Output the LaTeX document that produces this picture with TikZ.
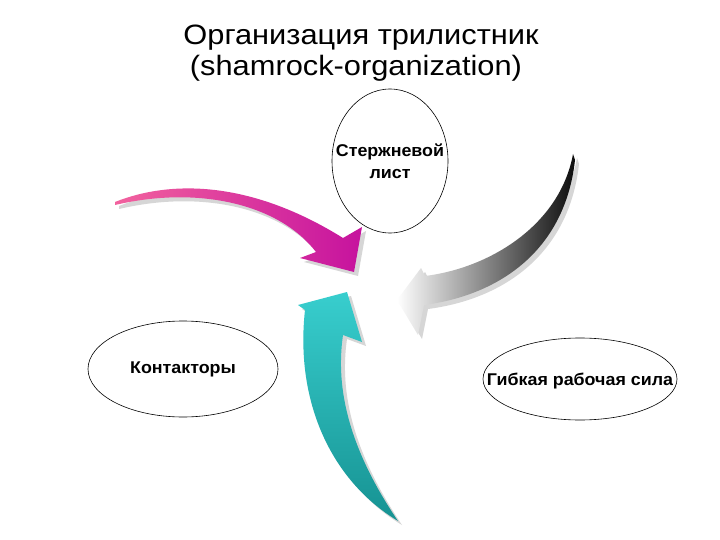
\documentclass[tikz,border=0pt]{standalone}
\usepackage{fontspec}
\usepackage{graphicx}
\setmainfont{Liberation Sans}
\usetikzlibrary{shapes.geometric}
\definecolor{pinkA}{RGB}{242,98,158}
\definecolor{pinkB}{RGB}{198,18,158}
\definecolor{tealA}{RGB}{56,206,206}
\definecolor{tealB}{RGB}{22,146,146}
\definecolor{shadowgrey}{RGB}{214,214,214}
\tikzset{
  leaf/.style={ellipse, draw=black, line width=0.6pt, inner sep=0pt},
  leaftext/.style={inner sep=0pt, align=center, font=\fontsize{17}{22}\selectfont\bfseries},
  titletext/.style={anchor=base, inner sep=0pt, font=\fontsize{28}{28}\selectfont},
  arrowshadow/.style={fill=shadowgrey, shift={(4,4)}},
  pinkfill/.style={left color=pinkA, right color=pinkB},
  greyfill/.style={left color=white, middle color=black!12, right color=black!95},
  tealfill/.style={top color=tealA, bottom color=tealB},
}
\newcommand\pinkleaf[1]{\path[#1] (115,202) .. controls (170,180) and (250,180) .. (343,238)
  -- (362,227) -- (354,272) -- (300,258) -- (316,252)
  .. controls (280,205) and (200,185) .. (115,205) -- cycle;}
\newcommand\greyleaf[1]{\path[#1] (573,154) .. controls (560,225) and (490,268) .. (425,276)
  -- (421,268) -- (397,300) -- (418,335) -- (424,305)
  .. controls (500,295) and (565,250) .. (575,160) -- cycle;}
\newcommand\tealleaf[1]{\path[#1] (398,521) .. controls (330,480) and (295,400) .. (305,310)
  -- (298,305) -- (347,292) -- (362,342) -- (343,335)
  .. controls (335,390) and (350,450) .. (398,521) -- cycle;}
\begin{document}
\begin{tikzpicture}[x=1pt, y=-1pt]
  \useasboundingbox (0,0) rectangle (720,540);
  \fill[white] (0,0) rectangle (720,540);
  % title
  \node[titletext] (title1) at (361,45) {\scalebox{1.1}[1]{Организация трилистник}};
  \node[titletext] (title2) at (356,76) {\scalebox{1.1}[1]{(shamrock-organization)}};
  % arrows
  \pinkleaf{arrowshadow}
  \pinkleaf{pinkfill}
  \greyleaf{arrowshadow}
  \greyleaf{greyfill}
  \tealleaf{arrowshadow}
  \tealleaf{tealfill}
  % leaves
  \node[leaf, minimum width=116pt, minimum height=144pt] (core) at (390,161) {};
  \node[leaftext] (coretext) at (core.center)
    {\scalebox{1.05}[1]{Стержневой}\\\scalebox{1.05}[1]{лист}};
  \node[leaf, minimum width=190pt, minimum height=96pt] (contract) at (183,369) {};
  \node[leaftext] (contracttext) at (contract.center) {\scalebox{1.05}[1]{Контакторы}};
  \node[leaf, minimum width=194pt, minimum height=82pt] (flex) at (580,379) {};
  \node[leaftext] (flextext) at ([yshift=-2pt]flex.center) {\scalebox{1.05}[1]{Гибкая рабочая сила}};
\end{tikzpicture}
\end{document}
